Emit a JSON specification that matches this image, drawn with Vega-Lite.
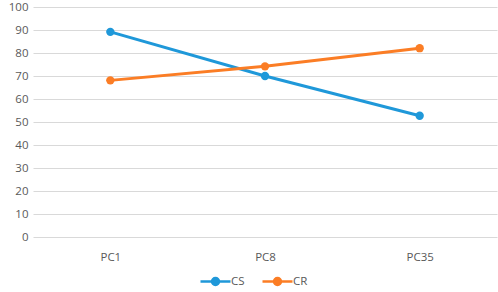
{
  "$schema": "https://vega.github.io/schema/vega-lite/v6.json",
  "width": 464,
  "height": 230,
  "autosize": {"type": "none"},
  "padding": {"left": 33, "top": 7, "right": 1, "bottom": 55},
  "background": "white",
  "config": {
    "view": {"stroke": null},
    "font": "Open Sans",
    "axis": {"labelColor": "#595959", "labelFontSize": 11.5, "labelFont": "Open Sans"},
    "legend": {"labelColor": "#595959", "labelFontSize": 11.5, "labelFont": "Open Sans"}
  },
  "data": {
    "values": [
      {"pc": "PC1", "series": "CS", "value": 89.2},
      {"pc": "PC8", "series": "CS", "value": 70.0},
      {"pc": "PC35", "series": "CS", "value": 52.7},
      {"pc": "PC1", "series": "CR", "value": 68.1},
      {"pc": "PC8", "series": "CR", "value": 74.2},
      {"pc": "PC35", "series": "CR", "value": 82.1}
    ]
  },
  "encoding": {
    "x": {
      "field": "pc", "type": "nominal", "sort": ["PC1", "PC8", "PC35"],
      "scale": {"type": "point", "padding": 0.5},
      "axis": {"title": null, "labelAngle": 0, "ticks": false, "domain": false, "grid": false, "labelPadding": 14}
    },
    "y": {
      "field": "value", "type": "quantitative",
      "scale": {"domain": [0, 100]},
      "axis": {"title": null, "values": [0,10,20,30,40,50,60,70,80,90,100], "labelOverlap": false, "labelBound": false, "ticks": false, "domain": false, "gridColor": "#d9d9d9", "gridWidth": 1, "labelPadding": 5}
    },
    "color": {
      "field": "series", "type": "nominal",
      "sort": ["CS", "CR"],
      "scale": {"domain": ["CS", "CR"], "range": ["#1f98d9", "#fb7d25"]},
      "legend": {
        "title": null, "orient": "none", "direction": "horizontal",
        "legendX": 171, "legendY": 263,
        "symbolType": "M-1.5,0H1.5M0.35,0A0.35,0.35 0 1,1 -0.35,0A0.35,0.35 0 1,1 0.35,0Z",
        "symbolSize": 400, "symbolStrokeWidth": 2.5, "columnPadding": 12, "labelOffset": 4
      }
    }
  },
  "layer": [
    {"mark": {"type": "line", "strokeWidth": 3}},
    {"mark": {"type": "point", "filled": true, "size": 70, "opacity": 1}}
  ]
}
